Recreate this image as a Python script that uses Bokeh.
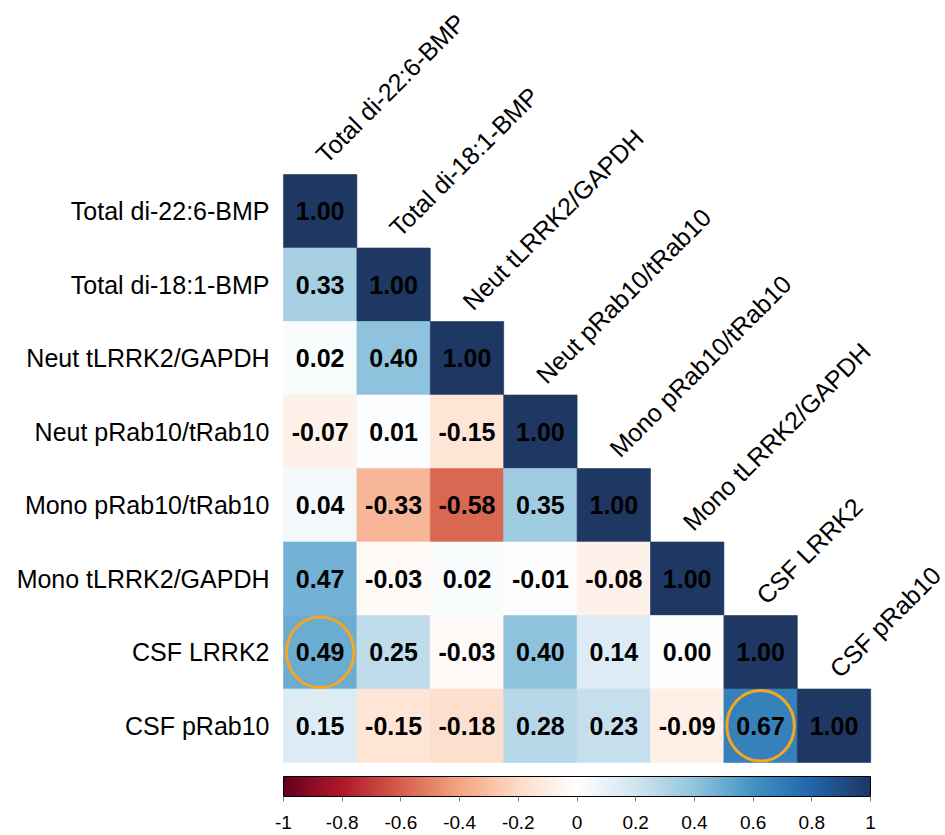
import math
import numpy as np
from bokeh.plotting import figure
from bokeh.models import (ColumnDataSource, LinearColorMapper, ColorBar, FixedTicker,
                          PrintfTickFormatter, Range1d)
from bokeh.core.properties import value
from bokeh.embed import file_html
from bokeh.resources import INLINE

# ---------------- data ----------------
labels = ["Total di-22:6-BMP", "Total di-18:1-BMP", "Neut tLRRK2/GAPDH",
          "Neut pRab10/tRab10", "Mono pRab10/tRab10", "Mono tLRRK2/GAPDH",
          "CSF LRRK2", "CSF pRab10"]

row_total_22_6 = [1.00]
row_total_18_1 = [0.33, 1.00]
row_neut_tlrrk2 = [0.02, 0.40, 1.00]
row_neut_prab10 = [-0.07, 0.01, -0.15, 1.00]
row_mono_prab10 = [0.04, -0.33, -0.58, 0.35, 1.00]
row_mono_tlrrk2 = [0.47, -0.03, 0.02, -0.01, -0.08, 1.00]
row_csf_lrrk2 = [0.49, 0.25, -0.03, 0.40, 0.14, 0.00, 1.00]
row_csf_prab10 = [0.15, -0.15, -0.18, 0.28, 0.23, -0.09, 0.67, 1.00]
corr = [row_total_22_6, row_total_18_1, row_neut_tlrrk2, row_neut_prab10,
        row_mono_prab10, row_mono_tlrrk2, row_csf_lrrk2, row_csf_prab10]

highlight_rows = [6, 7]
highlight_cols = [0, 6]

colorbar_ticks = [-1, -0.8, -0.6, -0.4, -0.2, 0, 0.2, 0.4, 0.6, 0.8, 1]

# ---------------- palette (corrplot RdBu) ----------------
stops = ["#67001F", "#B2182B", "#D6604D", "#F4A582", "#FDDBC7", "#FFFFFF",
         "#D1E5F0", "#92C5DE", "#4393C3", "#2166AC", "#1E3763"]


def _rgb(h):
    h = h.lstrip("#")
    return [int(h[k:k + 2], 16) for k in (0, 2, 4)]


_s = np.array([_rgb(c) for c in stops], dtype=float)
_pos = np.linspace(0, 1, len(stops))
_t = np.linspace(0, 1, 200)
palette = ["#%02x%02x%02x" % tuple(int(round(np.interp(t, _pos, _s[:, k]))) for k in range(3))
           for t in _t]
mapper = LinearColorMapper(palette=palette, low=-1, high=1)

# ---------------- sources ----------------
n = len(labels)
cx, cy, cr, ct = [], [], [], []
for i, row in enumerate(corr):
    for j, r in enumerate(row):
        cx.append(j + 0.5)
        cy.append(n - i - 0.5)
        cr.append(r)
        ct.append("%.2f" % r)
cells = ColumnDataSource(dict(x=cx, y=cy, r=cr, t=ct))

row_src = ColumnDataSource(dict(x=[0] * n, y=[n - i - 0.5 for i in range(n)], t=labels))
col_src = ColumnDataSource(dict(x=[j + 0.5 for j in range(n)], y=[n - j for j in range(n)], t=labels))
hl_src = ColumnDataSource(dict(x=[c + 0.5 for c in highlight_cols],
                               y=[n - r - 0.5 for r in highlight_rows]))

# ---------------- figure ----------------
W, H = 945, 833
UX, UY = 73.4, 73.5
X0, Y0 = 283, 762
p = figure(width=W, height=H,
           x_range=Range1d(-X0 / UX, (W - X0) / UX),
           y_range=Range1d(-(H - Y0) / UY, Y0 / UY),
           x_axis_location=None, y_axis_location=None, toolbar_location=None,
           output_backend="svg", min_border=0)
p.grid.visible = False
p.outline_line_color = None
p.background_fill_color = "white"

cmap = {"field": "r", "transform": mapper}
p.rect(x="x", y="y", width=1, height=1, source=cells, fill_color=cmap,
       line_color=cmap, line_width=0.6)

FONT = value("Liberation Sans")
p.text(x="x", y="y", text="t", source=cells, text_align="center", text_baseline="middle",
       text_font=FONT, text_font_style="bold", text_font_size="25px", text_color="black")

p.text(x="x", y="y", text="t", source=row_src, x_offset=-14, text_align="right",
       text_baseline="middle", text_font=FONT, text_font_size="25px", text_color="black")

p.text(x="x", y="y", text="t", source=col_src, y_offset=-16, angle=math.pi / 4,
       text_align="left", text_baseline="alphabetic", text_font=FONT,
       text_font_size="25px", text_color="black")

p.ellipse(x="x", y="y", width=0.92, height=0.96, source=hl_src, fill_color=None,
          line_color="#F5A623", line_width=3)

cb = ColorBar(color_mapper=mapper, orientation="horizontal", width=587, height=20,
              location=(283, 2), padding=0, margin=0,
              ticker=FixedTicker(ticks=colorbar_ticks),
              formatter=PrintfTickFormatter(format="%g"),
              major_tick_in=0, major_tick_out=5, major_tick_line_color="#7f7f7f",
              bar_line_color="black", bar_line_width=1, label_standoff=14,
              major_label_text_font="Liberation Sans", major_label_text_font_size="19px",
              major_label_text_color="black",
              background_fill_alpha=0, border_line_color=None)
p.add_layout(cb, "center")

open("out.html", "w").write(file_html(p, INLINE))
